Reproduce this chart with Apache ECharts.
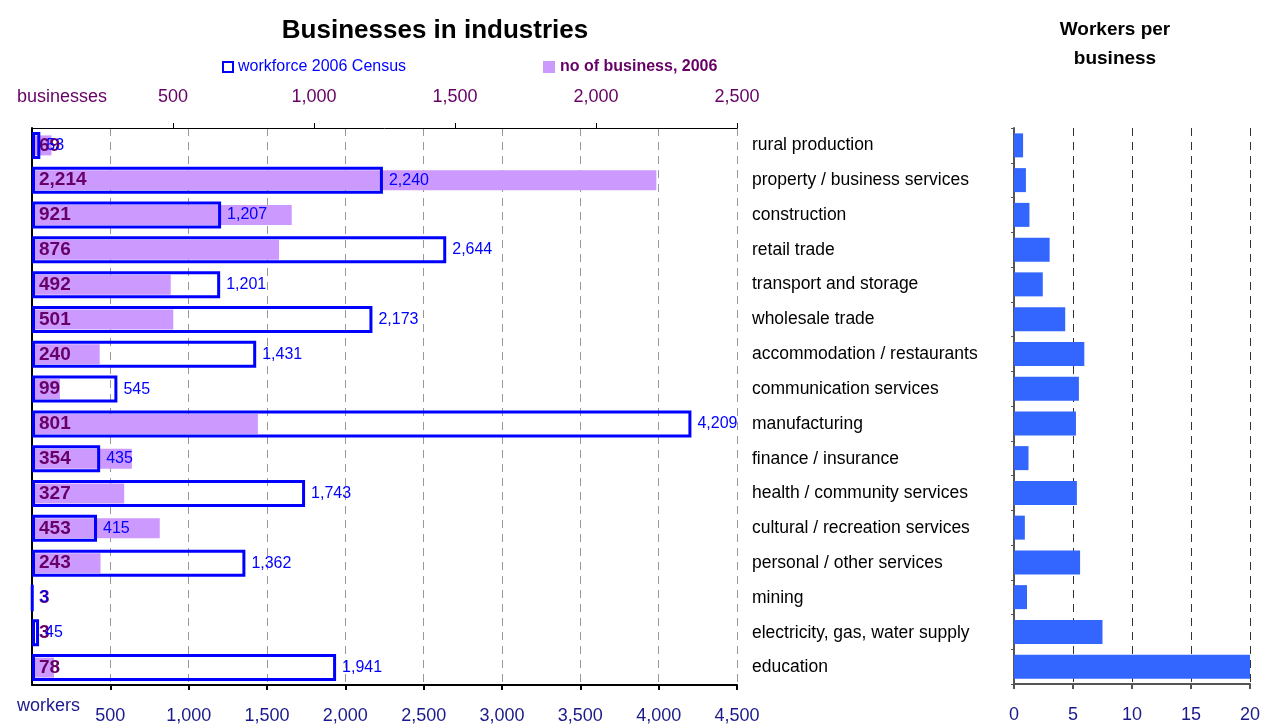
<!DOCTYPE html>
<html>
<head>
<meta charset="utf-8">
<script src="https://cdn.jsdelivr.net/npm/echarts@6/dist/echarts.min.js"></script>
<style>
  html, body { margin: 0; padding: 0; background: #fff; }
  #chart { width: 1261px; height: 724px; }
</style>
</head>
<body>
<div id="chart"></div>
<script>
// industries, top to bottom
const industries = [
  'rural production', 'property / business services', 'construction', 'retail trade',
  'transport and storage', 'wholesale trade', 'accommodation / restaurants',
  'communication services', 'manufacturing', 'finance / insurance',
  'health / community services', 'cultural / recreation services',
  'personal / other services', 'mining', 'electricity, gas, water supply', 'education'
]
// no of business, 2006
const businesses = [69, 2214, 921, 876, 492, 501, 240, 99, 801, 354, 327, 453, 243, 3, 3, 78]
// workforce 2006 Census
const workforce = [53, 2240, 1207, 2644, 1201, 2173, 1431, 545, 4209, 435, 1743, 415, 1362, 3, 45, 1941]
// workers per business
const workersPerBusiness = [0.77, 1.01, 1.31, 3.02, 2.44, 4.34, 5.96, 5.5, 5.25, 1.23, 5.33, 0.92, 5.6, 1.1, 7.5, 24.9]

const FONT = "'Liberation Sans', Arial, sans-serif"
const PURPLE = '#660066'
const NAVY = '#1a1a8c'
const fmt = v => v.toLocaleString('en-US')

var myChart = echarts.init(document.getElementById('chart'))

const option = {
  backgroundColor: '#fff',
  textStyle: { fontFamily: FONT },
  animation: false,
  title: [
    {
      text: 'Businesses in industries',
      left: 430, top: 13, textAlign: 'center',
      textStyle: { fontSize: 26, fontWeight: 'bold', color: '#000', fontFamily: FONT }
    },
    {
      text: 'Workers per\nbusiness',
      left: 1110, top: 10, textAlign: 'center',
      textStyle: { fontSize: 19, fontWeight: 'bold', color: '#000', lineHeight: 29, fontFamily: FONT }
    },
    {
      text: 'businesses', left: 12, top: 83,
      textStyle: { fontSize: 18, fontWeight: 'normal', color: PURPLE, fontFamily: FONT }
    },
    {
      text: 'workers', left: 12, top: 692,
      textStyle: { fontSize: 18, fontWeight: 'normal', color: NAVY, fontFamily: FONT }
    }
  ],
  legend: [
    {
      data: ['workforce 2006 Census'],
      left: 217, top: 54,
      icon: 'rect', itemWidth: 10, itemHeight: 10,
      itemStyle: { color: '#fff', borderColor: '#0000ff', borderWidth: 2 },
      textStyle: { color: '#0000ff', fontSize: 16, fontFamily: FONT }
    },
    {
      data: ['no of business, 2006'],
      left: 538, top: 54,
      icon: 'rect', itemWidth: 12, itemHeight: 12,
      itemStyle: { color: '#cc99ff' },
      textStyle: { color: PURPLE, fontSize: 16, fontWeight: 'bold', fontFamily: FONT }
    }
  ],
  grid: [
    { left: 32, right: 524, top: 128, bottom: 39, outerBoundsMode: 'none' },
    { left: 1014, right: 11, top: 128, bottom: 40, outerBoundsMode: 'none' }
  ],
  xAxis: [
    {
      // workers (bottom)
      type: 'value', gridIndex: 0, position: 'bottom',
      min: 0, max: 4500, interval: 500,
      axisLine: { show: true, lineStyle: { color: '#000', width: 2 } },
      axisTick: { show: true, length: 5, lineStyle: { color: '#000', width: 2 } },
      axisLabel: {
        showMinLabel: false, margin: 22, fontSize: 18, color: NAVY,
        formatter: v => fmt(v)
      },
      splitLine: { show: true, lineStyle: { color: '#999', type: [8, 6], width: 1 } }
    },
    {
      // businesses (top)
      type: 'value', gridIndex: 0, position: 'top',
      min: 0, max: 2500, interval: 500,
      axisLine: { show: true, onZero: false, lineStyle: { color: '#000', width: 1 } },
      axisTick: { show: true, length: 5, lineStyle: { color: '#000' } },
      axisLabel: {
        showMinLabel: false, margin: 22, fontSize: 18, color: PURPLE,
        formatter: v => fmt(v)
      },
      splitLine: { show: false }
    },
    {
      // workers per business
      type: 'value', gridIndex: 1, position: 'bottom',
      min: 0, max: 20, interval: 5,
      axisLine: { show: true, lineStyle: { color: '#555', width: 2 } },
      axisTick: { show: true, length: 5, lineStyle: { color: '#555', width: 2 } },
      axisLabel: { margin: 22, fontSize: 18, color: NAVY },
      splitLine: { show: true, lineStyle: { color: '#333', type: [8, 6], width: 1 } }
    }
  ],
  yAxis: [
    {
      type: 'category', gridIndex: 0, position: 'left', inverse: true,
      data: industries,
      axisLine: { show: true, onZero: false, lineStyle: { color: '#000', width: 2 } },
      axisTick: { show: false },
      axisLabel: { show: false }
    },
    {
      type: 'category', gridIndex: 0, position: 'right', inverse: true,
      data: industries,
      axisLine: { show: false },
      axisTick: { show: false },
      axisLabel: { show: true, margin: 15, fontSize: 17.5, color: '#000', align: 'left' }
    },
    {
      type: 'category', gridIndex: 1, position: 'left', inverse: true,
      data: industries,
      axisLine: { show: true, onZero: false, lineStyle: { color: '#555', width: 2 } },
      axisTick: { show: true, length: 3, lineStyle: { color: '#555' } },
      axisLabel: { show: false }
    }
  ],
  series: [
    {
      name: 'no of business, 2006',
      type: 'bar',
      xAxisIndex: 1, yAxisIndex: 1,
      barWidth: 20,
      z: 2,
      itemStyle: { color: '#cc99ff' },
      label: {
        show: true, position: 'insideLeft', distance: 7,
        color: PURPLE, fontSize: 19, fontWeight: 'bold',
        formatter: p => fmt(p.value)
      },
      data: businesses
    },
    {
      name: 'workforce 2006 Census',
      type: 'bar',
      xAxisIndex: 0, yAxisIndex: 0,
      barWidth: 27,
      z: 3,
      itemStyle: { color: 'rgba(255,255,255,0)', borderColor: '#0000ff', borderWidth: 3 },
      label: {
        show: true, position: 'right', distance: 6,
        color: '#0000ff', fontSize: 16,
        formatter: p => fmt(p.value)
      },
      data: workforce
    },
    {
      name: 'workers per business',
      type: 'bar',
      xAxisIndex: 2, yAxisIndex: 2,
      barWidth: 24,
      itemStyle: { color: '#3366ff' },
      data: workersPerBusiness
    }
  ]
}

myChart.setOption(option)
</script>
</body>
</html>
